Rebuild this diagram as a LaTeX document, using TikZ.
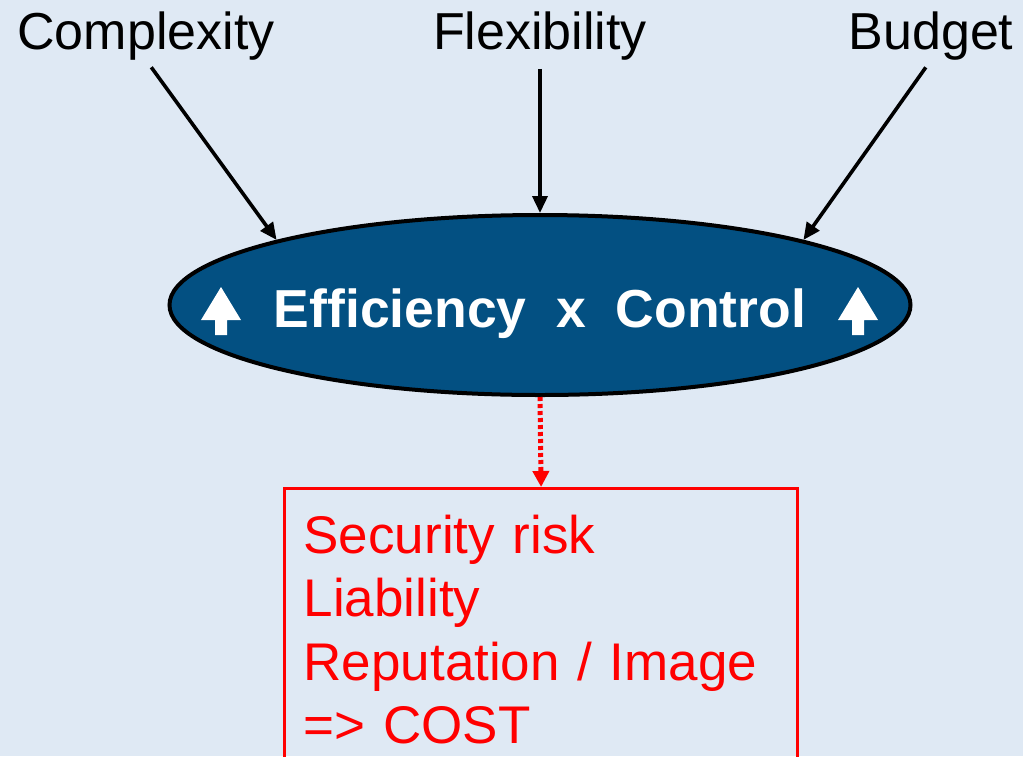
\documentclass[tikz,border=0pt]{standalone}
\usepackage{fontspec}
\setmainfont{Liberation Sans}
\usetikzlibrary{shapes,arrows.meta,positioning}

\definecolor{bgblue}{RGB}{223,233,244}
\definecolor{ovalblue}{RGB}{3,80,130}

\tikzset{
  factor/.style={anchor=base,inner sep=0pt,font=\fontsize{52}{60}\selectfont},
  feed/.style={line width=3.6pt,-{Triangle[length=17pt,width=15pt]},shorten <=9pt}
}

\begin{document}
\begin{tikzpicture}[x=1pt,y=-1pt]

\useasboundingbox (0,0) rectangle (1023,756);
\clip (0,0) rectangle (1023,756);
\fill[bgblue] (0,0) rectangle (1023,756);

% the three forces on top
\foreach \name/\x/\txt in {cplx/146/Complexity,flex/540/Flexibility,budg/931/Budget}
  \node[factor] (\name) at (\x,49) {\txt};

% central oval
\node[ellipse,draw=black,line width=4pt,fill=ovalblue,minimum width=741pt,minimum height=180pt]
  (eff) at (540,305) {};
\node[anchor=base,text=white,inner sep=0pt,font=\fontsize{53.5}{60}\bfseries\selectfont]
  (effTxt) at (540,327) {Efficiency\ \ x\ \ Control};
\foreach \x in {221,858}
  \fill[white] (\x,287) -- ++(20,33) -- ++(-14,0) -- ++(0,15) -- ++(-12,0)
    -- ++(0,-15) -- ++(-14,0) -- cycle;

\draw[feed] (cplx.south) -- (eff.north west);
\draw[feed] (flex.south) -- (eff.north);
\draw[feed] (budg.south) -- (eff.north east);

% consequences
\node[draw=red,line width=3.2pt,anchor=north west,text=red,align=left,text width=475pt,
  inner xsep=19pt,inner ysep=26pt,
  font=\fontsize{53}{63.5}\selectfont] (cost) at (283,487)
  {Security risk\\Liability\\Reputation / Image\\=> COST};

\draw[red,line width=5pt,dash pattern=on 4pt off 3pt,-{Triangle[length=16pt,width=16pt]}]
  (eff.south) -- (cost.north);

\end{tikzpicture}
\end{document}
